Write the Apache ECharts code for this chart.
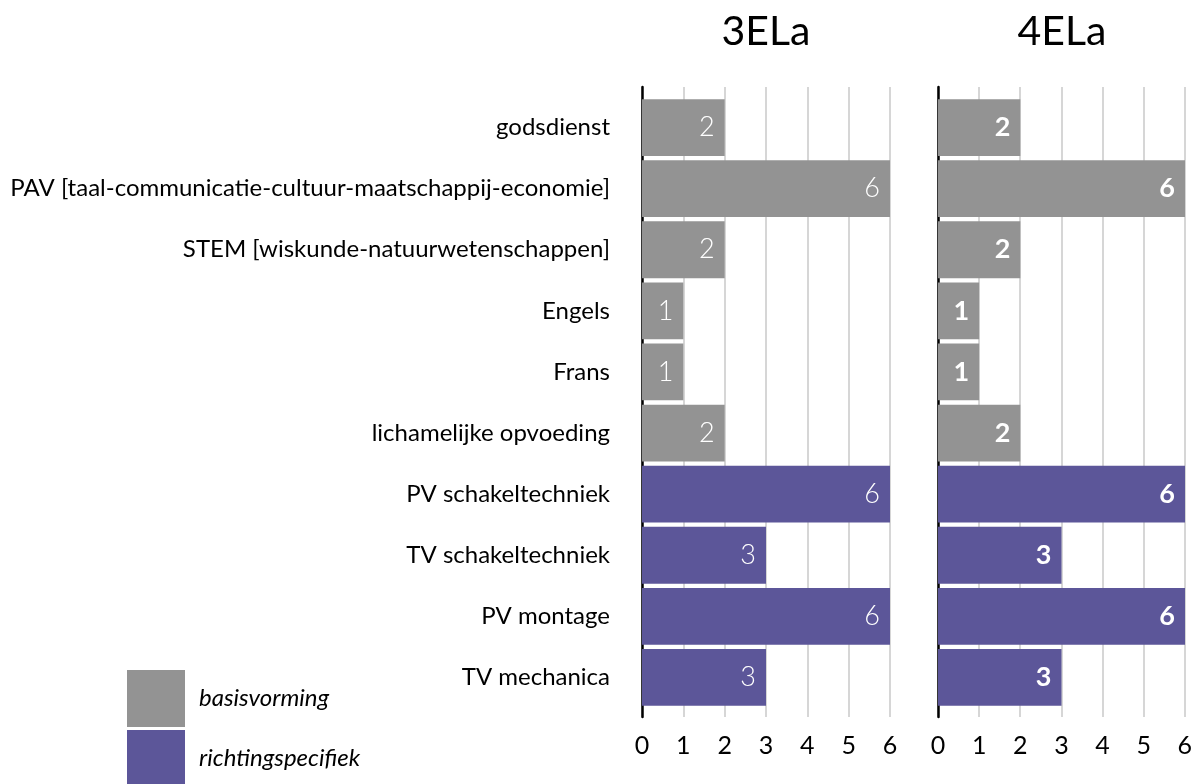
<!DOCTYPE html>
<html><head><meta charset="utf-8">
<script src="https://cdn.jsdelivr.net/npm/echarts@6/dist/echarts.min.js"></script>
<style>html,body{margin:0;padding:0;background:#fff}#c{width:1195px;height:784px}</style>
</head><body><div id="c"></div>
<script>
const categories = ['godsdienst','PAV [taal-communicatie-cultuur-maatschappij-economie]','STEM [wiskunde-natuurwetenschappen]','Engels','Frans','lichamelijke opvoeding','PV schakeltechniek','TV schakeltechniek','PV montage','TV mechanica'];
const groups = ['basisvorming','basisvorming','basisvorming','basisvorming','basisvorming','basisvorming','richtingspecifiek','richtingspecifiek','richtingspecifiek','richtingspecifiek'];
const hours3ELa = [2,6,2,1,1,2,6,3,6,3];
const hours4ELa = [2,6,2,1,1,2,6,3,6,3];
const panelTitles = ['3ELa','4ELa'];
const xTicks = [0,1,2,3,4,5,6];

const FONT = 'Lato';
const GRAY = '#939393', PURPLE = '#5c5699';
const panels = [{left:642, right:1195-890}, {left:938, right:1195-1185}];
const chart = echarts.init(document.getElementById('c'));

const grids = [], xAxes = [], yAxes = [], series = [];
panels.forEach((p, i) => {
  grids.push({left:p.left, right:p.right, top:87, bottom:784-717});
  grids.push({left:p.left, right:p.right, top:97, bottom:784-708});
  const gA = i*2, gB = i*2+1;
  xAxes.push({gridIndex:gA, type:'value', min:0, max:6, interval:1,
    axisLine:{show:false}, axisTick:{show:false},
    splitLine:{show:true, lineStyle:{color:'#c8c8c8', width:1.5}},
    axisLabel:{show:true, fontFamily:FONT, fontSize:25, color:'#000', margin:16,
      formatter: v => xTicks.includes(v) ? String(v) : ''}});
  yAxes.push({gridIndex:gA, type:'category', data:categories, inverse:true,
    axisLine:{show:true, lineStyle:{color:'#000', width:2.5}}, axisTick:{show:false},
    axisLabel:{show:false}, splitLine:{show:false}});
  xAxes.push({gridIndex:gB, type:'value', min:0, max:6, interval:1, show:false});
  yAxes.push({gridIndex:gB, type:'category', data:categories, inverse:true,
    axisLine:{show:false}, axisTick:{show:false},
    axisLabel:{show:i===0, fontFamily:FONT, fontSize:24, color:'#000', margin:32}});
  const vals = i===0 ? hours3ELa : hours4ELa;
  ['basisvorming','richtingspecifiek'].forEach((g, k) => {
    series.push({type:'bar', name:g, xAxisIndex:2*i+1, yAxisIndex:2*i+1, stack:'s'+i,
      barCategoryGap:'7%', itemStyle:{color: k===0?GRAY:PURPLE},
      label:{show:true, position:'insideRight', distance:10, color:'#fff', fontFamily:FONT,
        fontSize:27, fontWeight: i===0 ? 300 : 'bold'},
      data: vals.map((v, j) => groups[j]===g ? v : '-')});
  });
});

chart.setOption({
  animation:false,
  title: panelTitles.map((t, i) => ({text:t, left: i===0?761:1057, top:6, textAlign:'center',
    textStyle:{fontFamily:FONT, fontSize:41, fontWeight:'normal', color:'#000'}})),
  legend:{orient:'vertical', left:127, top:670, padding:0, itemWidth:58, itemHeight:57, itemGap:3,
    height:140, icon:'rect', data:['basisvorming','richtingspecifiek'],
    textStyle:{fontFamily:FONT, fontSize:24, fontStyle:'italic', color:'#000', padding:[0,0,0,9]}},
  grid:grids, xAxis:xAxes, yAxis:yAxes, series:series
});
</script></body></html>
